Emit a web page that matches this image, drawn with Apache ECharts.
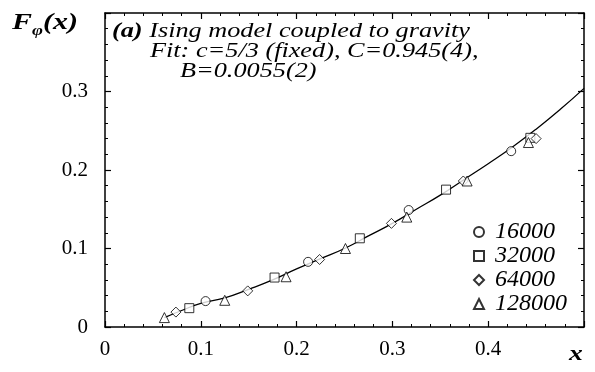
<!DOCTYPE html>
<html>
<head>
<meta charset="utf-8">
<script src="https://cdn.jsdelivr.net/npm/echarts@6/dist/echarts.min.js"></script>
<style>
  html, body { margin: 0; padding: 0; background: #fff; }
  #chart { width: 595px; height: 372px; }
</style>
</head>
<body>
<div id="chart"></div>
<script>
// Data (x, F_phi(x))
const xTicks = [0, 0.1, 0.2, 0.3, 0.4, 0.5];
const yTicks = [0, 0.1, 0.2, 0.3, 0.4];

const seriesNames = ['16000', '32000', '64000', '128000'];

const pts16000 = [[0.105, 0.033], [0.212, 0.083], [0.317, 0.149], [0.424, 0.224]];
const pts32000 = [[0.088, 0.024], [0.177, 0.063], [0.266, 0.113], [0.356, 0.175], [0.444, 0.241]];
const pts64000 = [[0.074, 0.019], [0.149, 0.046], [0.224, 0.086], [0.299, 0.132], [0.374, 0.186], [0.450, 0.240]];
const pts128000 = [[0.062, 0.012], [0.125, 0.034], [0.189, 0.064], [0.251, 0.100], [0.315, 0.140], [0.378, 0.186], [0.442, 0.235]];

// Fit curve
const fitX = [0.062, 0.08, 0.1, 0.125, 0.15, 0.175, 0.2, 0.225, 0.25, 0.275, 0.3, 0.325, 0.35, 0.375, 0.4, 0.425, 0.45, 0.475, 0.5];
const fitY = [0.012, 0.021, 0.030, 0.037, 0.048, 0.060, 0.074, 0.087, 0.100, 0.116, 0.132, 0.150, 0.168, 0.188, 0.208, 0.229, 0.252, 0.277, 0.304];

const SERIF = '"Liberation Serif", "DejaVu Serif", serif';
const symbols = ['circle', 'rect', 'diamond', 'triangle'];
const symbolSizes = [9, 9, 10, 10];
const dataSets = [pts16000, pts32000, pts64000, pts128000];

const chart = echarts.init(document.getElementById('chart'), null, { renderer: 'canvas' });

const axisCommon = {
  type: 'value',
  axisLine: { show: true, onZero: false, lineStyle: { color: '#000', width: 1.5 } },
  axisTick: { show: true, inside: true, length: 6, lineStyle: { color: '#000', width: 1.2 } },
  minorTick: { show: true, splitNumber: 5, length: 3, lineStyle: { color: '#000', width: 1 } },
  splitLine: { show: false },
};

const scatterSeries = dataSets.map((pts, i) => ({
  name: seriesNames[i],
  type: 'scatter',
  data: pts,
  symbol: symbols[i],
  symbolSize: symbolSizes[i],
  itemStyle: { color: '#fff', borderColor: '#000', borderWidth: 1 },
  z: 3,
}));

// the scanned figure's type is wider than Liberation Serif, so stretch it a bit
const stretched = (text, x, y, size, extra) => ({
  type: 'text', x: x, y: y, scaleX: 1.25, z: 10,
  style: Object.assign({
    text: text, fontFamily: SERIF, fontStyle: 'italic', fontSize: size,
    fill: '#000', verticalAlign: 'top', align: 'left',
  }, extra || {}),
});

const option = {
  animation: false,
  backgroundColor: '#fff',
  grid: { left: 105, right: 11, top: 13, bottom: 45 },
  legend: {
    data: seriesNames,
    orient: 'vertical',
    left: 468, top: 215,
    itemWidth: 10, itemHeight: 10, itemGap: 0,
    textStyle: { fontFamily: SERIF, fontStyle: 'italic', fontSize: 24, color: '#000', padding: [0, 0, 0, 6] },
  },
  xAxis: [
    Object.assign({}, axisCommon, {
      min: xTicks[0], max: xTicks[xTicks.length - 1], interval: 0.1,
      position: 'bottom',
      axisLabel: { showMaxLabel: false, margin: 12, fontFamily: SERIF, fontSize: 21, color: '#000' },
    }),
    Object.assign({}, axisCommon, {
      min: xTicks[0], max: xTicks[xTicks.length - 1], interval: 0.1,
      position: 'top', axisLabel: { show: false },
    }),
  ],
  yAxis: [
    Object.assign({}, axisCommon, {
      min: yTicks[0], max: yTicks[yTicks.length - 1], interval: 0.1,
      position: 'left',
      axisLabel: { showMaxLabel: false, margin: 17, fontFamily: SERIF, fontSize: 21, color: '#000' },
    }),
    Object.assign({}, axisCommon, {
      min: yTicks[0], max: yTicks[yTicks.length - 1], interval: 0.1,
      position: 'right', axisLabel: { show: false },
    }),
  ],
  graphic: [
    stretched('{b|(a)} Ising model coupled to gravity', 112, 21, 21, {
      rich: { b: { fontFamily: SERIF, fontStyle: 'italic', fontWeight: 'bold', fontSize: 21 } },
    }),
    stretched('Fit: c=5/3 (fixed), C=0.945(4),', 150, 41, 21),
    stretched('B=0.0055(2)', 180, 61, 21),
    stretched('{f|F}{s|φ}{f|(x)}', 12, 6, 24, {
      rich: {
        f: { fontFamily: SERIF, fontStyle: 'italic', fontWeight: 'bold', fontSize: 24, fill: '#000' },
        s: { fontFamily: SERIF, fontStyle: 'italic', fontWeight: 'bold', fontSize: 15, fill: '#000', padding: [18, 0, 0, 0] },
      },
    }),
    stretched('x', 569, 343, 22, { fontWeight: 'bold' }),
  ],
  series: [
    {
      name: 'fit',
      type: 'line',
      data: fitX.map((x, i) => [x, fitY[i]]),
      showSymbol: false,
      smooth: true,
      lineStyle: { color: '#000', width: 1.3 },
      z: 2,
    },
  ].concat(scatterSeries),
};

chart.setOption(option);
</script>
</body>
</html>
